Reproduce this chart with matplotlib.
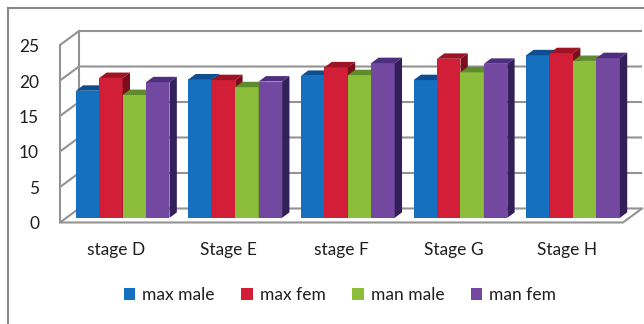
import matplotlib
matplotlib.use("Agg")
import matplotlib.pyplot as plt
from matplotlib.patches import Polygon, Patch
from matplotlib.lines import Line2D
from matplotlib import transforms

stages = ["stage D", "Stage E", "stage F", "Stage G", "Stage H"]
series = ["max male", "max fem", "man male", "man fem"]
max_male = [17.9, 19.5, 20.0, 19.4, 22.9]
max_fem = [19.7, 19.4, 21.2, 22.4, 23.2]
man_male = [17.3, 18.4, 20.1, 20.5, 22.1]
man_fem = [19.1, 19.2, 21.8, 21.7, 22.5]
yticks = [0, 5, 10, 15, 20, 25]

front = ["#1670C0", "#D21E37", "#8CBE3C", "#7248A0"]
top = ["#0E4E90", "#9E1424", "#5E8C2A", "#4E2E7E"]
side = ["#0A3A6C", "#7A0E1C", "#466A1E", "#33205A"]

plt.rcParams["font.family"] = ["Lato", "DejaVu Sans"]

fig = plt.figure(figsize=(6.44, 3.24), dpi=100)
ax = fig.add_axes([0, 0, 1, 1])
ax.set_xlim(-1.033, 4.6865)
ax.set_ylim(-14.30, 31.34)
ax.axis("off")

# oblique depth: one full depth unit moves 19 px right, 14 px up
DX = 19 / 112.6
DY = 14 / 7.1


def at(x, y, f):
    return (x + DX * f, y + DY * f)


grid = "#939393"
ymax = yticks[-1]
# left wall and back wall gridlines
for v in yticks:
    xs, ys = zip(at(-0.5, v, 0), at(-0.5, v, 1), at(4.5, v, 1))
    ax.plot(xs, ys, color=grid, lw=1.5, solid_capstyle="butt", zorder=1)
# wall edges
for f in (0, 1):
    xs, ys = zip(at(-0.5, 0, f), at(-0.5, ymax, f))
    ax.plot(xs, ys, color=grid, lw=1.5, zorder=1)
# floor front and right edges
xs, ys = zip(at(-0.5, 0, 0), at(4.5, 0, 0), at(4.5, 0, 1))
ax.plot(xs, ys, color=grid, lw=1.5, zorder=1)

# bars, 3D look built from the data heights
w = 0.208
f0, f1 = 1 / 3, 0.72
data = [max_male, max_fem, man_male, man_fem]
for i in range(len(stages)):
    for k, vals in enumerate(data):
        h = vals[i]
        x0 = i + (k - 2) * w
        x1 = x0 + w
        z = 3 + i * 4 + k
        ax.add_patch(Polygon([at(x0, 0, f0), at(x1, 0, f0), at(x1, h, f0), at(x0, h, f0)],
                             closed=True, fc=front[k], ec="none", zorder=z))
        ax.add_patch(Polygon([at(x0, h, f0), at(x1, h, f0), at(x1, h, f1), at(x0, h, f1)],
                             closed=True, fc=top[k], ec="none", zorder=z))
        ax.add_patch(Polygon([at(x1, 0, f0), at(x1, 0, f1), at(x1, h, f1), at(x1, h, f0)],
                             closed=True, fc=side[k], ec="none", zorder=z))

# value axis labels
lab_off = transforms.offset_copy(ax.transData, fig=fig, x=-21, y=-2, units="dots")
for v in yticks:
    ax.text(-0.5, v, str(v), transform=lab_off, ha="right", va="center",
            fontsize=12.5, color="#1e1e1e")

# category labels
cat_off = transforms.offset_copy(ax.transData, fig=fig, x=0, y=-28, units="dots")
for i, s in enumerate(stages):
    ax.text(i, 0, s, transform=cat_off, ha="center", va="center",
            fontsize=12.5, color="#1e1e1e")

handles = [Patch(fc=c, ec="none") for c in front]
fig.legend(handles, series, loc="center", bbox_to_anchor=(0.528, 0.09), ncol=4,
           frameon=False, fontsize=12.5, handlelength=0.65, handleheight=0.65,
           handletextpad=0.4, columnspacing=1.55, labelcolor="#1e1e1e")

# chart outer border (top and left edges)
fig.add_artist(Line2D([8 / 644, 1], [1 - 8 / 324, 1 - 8 / 324], transform=fig.transFigure,
                      color="#8a8a8a", lw=1.5))
fig.add_artist(Line2D([8 / 644, 8 / 644], [0, 1 - 8 / 324], transform=fig.transFigure,
                      color="#8a8a8a", lw=1.5))

fig.savefig("out.png", dpi=100, facecolor="white")
